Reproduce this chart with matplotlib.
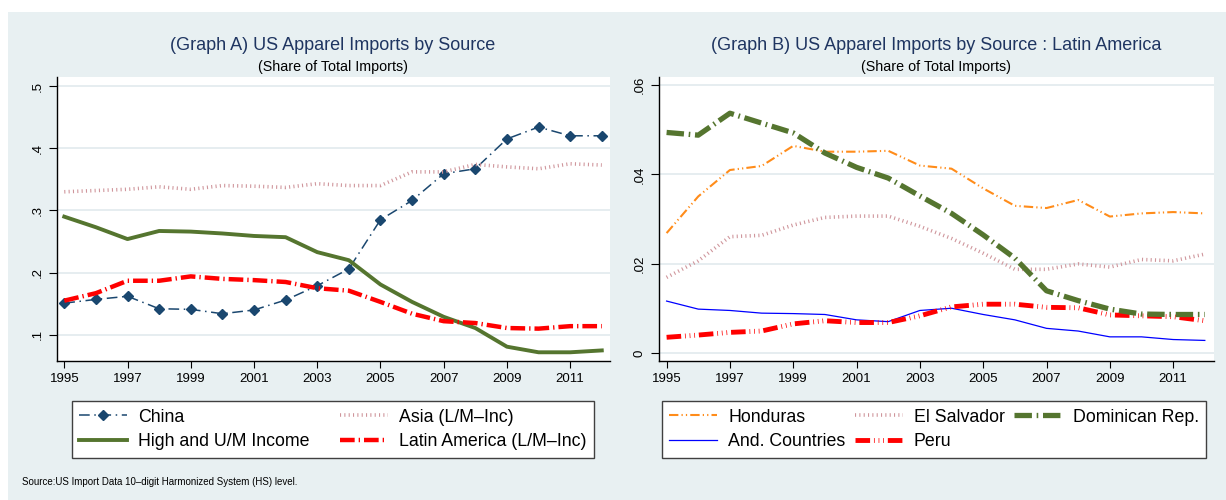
import numpy as np
import matplotlib.pyplot as plt
from matplotlib.patches import Rectangle
from matplotlib.ticker import FuncFormatter

plt.rcParams['font.family'] = ['Liberation Sans', 'DejaVu Sans']

years = list(range(1995, 2013))

# Graph A: share of total US apparel imports
china = [0.151, 0.157, 0.162, 0.142, 0.141, 0.134, 0.140, 0.156, 0.179, 0.206,
         0.285, 0.316, 0.359, 0.367, 0.415, 0.434, 0.420, 0.420]
asia = [0.330, 0.332, 0.334, 0.338, 0.334, 0.340, 0.339, 0.337, 0.343, 0.340,
        0.340, 0.362, 0.362, 0.374, 0.370, 0.367, 0.375, 0.373]
high_income = [0.290, 0.273, 0.254, 0.267, 0.266, 0.263, 0.259, 0.257, 0.233, 0.220,
               0.181, 0.153, 0.129, 0.111, 0.081, 0.072, 0.072, 0.075]
latin = [0.155, 0.167, 0.187, 0.187, 0.194, 0.190, 0.188, 0.185, 0.175, 0.171,
         0.153, 0.134, 0.122, 0.119, 0.111, 0.110, 0.114, 0.114]

# Graph B: Latin America countries
honduras = [0.0269, 0.0351, 0.0410, 0.0419, 0.0464, 0.0451, 0.0451, 0.0453, 0.0420, 0.0413,
            0.0369, 0.0330, 0.0325, 0.0343, 0.0306, 0.0313, 0.0316, 0.0313]
el_salvador = [0.0170, 0.0207, 0.0261, 0.0264, 0.0287, 0.0304, 0.0307, 0.0307, 0.0284, 0.0257,
               0.0224, 0.0188, 0.0188, 0.0200, 0.0193, 0.0210, 0.0207, 0.0222]
dominican = [0.0494, 0.0488, 0.0537, 0.0515, 0.0493, 0.0448, 0.0416, 0.0392, 0.0352, 0.0313,
             0.0265, 0.0213, 0.0140, 0.0118, 0.0099, 0.0088, 0.0087, 0.0087]
andean = [0.0117, 0.0099, 0.0096, 0.0090, 0.0089, 0.0087, 0.0075, 0.0071, 0.0096, 0.0101,
          0.0087, 0.0075, 0.0056, 0.0050, 0.0037, 0.0037, 0.0031, 0.0029]
peru = [0.0036, 0.0041, 0.0047, 0.0050, 0.0066, 0.0073, 0.0069, 0.0069, 0.0084, 0.0104,
        0.0110, 0.0110, 0.0103, 0.0102, 0.0086, 0.0084, 0.0082, 0.0073]

yticks_a = [0.1, 0.2, 0.3, 0.4, 0.5]
yticks_b = [0.0, 0.02, 0.04, 0.06]
xticks = list(range(1995, 2012, 2))

BG = '#e8f0f2'
NAVY = '#1a476f'
MAROON = '#cf959b'
GREEN = '#55752f'
TITLE = '#1f3561'


def strip_zero(v, pos):
    if abs(v) < 1e-12:
        return '0'
    return f"{v:g}".replace('0.', '.')


def style_axes(ax, yticks, ylim, xlim):
    ax.set_xlim(*xlim)
    ax.set_ylim(*ylim)
    ax.set_xticks(xticks)
    ax.set_yticks(yticks)
    ax.yaxis.set_major_formatter(FuncFormatter(strip_zero))
    for lab in ax.get_yticklabels():
        lab.set_rotation(90)
        lab.set_va('center')
    ax.tick_params(axis='both', labelsize=9.5, length=5, width=0.8, color='black')
    ax.tick_params(axis='y', length=6)
    ax.grid(axis='y', color='#e1eaee', linewidth=1.2)
    ax.set_axisbelow(True)
    for s in ['top', 'right']:
        ax.spines[s].set_visible(False)
    ax.spines['left'].set_linewidth(1.0)
    ax.spines['bottom'].set_linewidth(1.0)


fig = plt.figure(figsize=(12.26, 5.0), dpi=100)
fig.patches.append(Rectangle((8 / 1226, 0), 1, 1 - 12 / 500, transform=fig.transFigure,
                             facecolor=BG, edgecolor='none', zorder=-10))

ax1 = fig.add_axes([57 / 1226, 139 / 500, 553 / 1226, 284 / 500])
ax2 = fig.add_axes([659 / 1226, 139 / 500, 555 / 1226, 284 / 500])

# Graph A
ax1.plot(years, china, color=NAVY, lw=1.1, dashes=(7, 3, 1, 3), marker='D', ms=5.5,
         label='China')
ax1.plot(years, high_income, color=GREEN, lw=2.8, label='High and U/M Income')
ax1.plot(years, asia, color=MAROON, lw=2.6, dashes=(0.3, 0.9), label='Asia (L/M\u2013Inc)')
ax1.plot(years, latin, color='#ff0000', lw=3.2, dashes=(3.3, 0.9, 0.3, 0.9),
         label='Latin America (L/M\u2013Inc)')
style_axes(ax1, yticks_a, (0.058, 0.5145), (1994.77, 2012.26))

# Graph B
ax2.plot(years, honduras, color='#ff8c1a', lw=1.5, dashes=(4.5, 1.5, 0.6, 1.5, 0.6, 1.5),
         label='Honduras')
ax2.plot(years, andean, color='#0000ff', lw=0.9, label='And. Countries')
ax2.plot(years, el_salvador, color=MAROON, lw=2.6, dashes=(0.3, 0.9), label='El Salvador')
ax2.plot(years, peru, color='#ff0000', lw=3.5,
         dashes=(3, 0.8, 0.15, 0.8, 0.15, 0.8, 0.15, 0.8), label='Peru')
ax2.plot(years, dominican, color=GREEN, lw=3.8, dashes=(3.3, 0.9, 0.3, 0.9),
         label='Dominican Rep.')
style_axes(ax2, yticks_b, (-0.0017, 0.0618), (1994.76, 2012.29))

# titles
for cx, title in [(333, '(Graph A) US Apparel Imports by Source'),
                  (936, '(Graph B) US Apparel Imports by Source : Latin America')]:
    fig.text(cx / 1226, 1 - 46 / 500, title, ha='center', va='center', fontsize=13, color=TITLE)
    fig.text(cx / 1226, 1 - 67 / 500, '(Share of Total Imports)', ha='center', va='center',
             fontsize=10.3, color='black')

# legends
for ax, x0, x1, ncol in [(ax1, 72, 594, 2), (ax2, 662, 1206, 3)]:
    leg = fig.legend(*ax.get_legend_handles_labels(), ncol=ncol, mode='expand',
                     bbox_to_anchor=(x0 / 1226, 43 / 500, (x1 - x0) / 1226, 55 / 500),
                     loc='center', fontsize=12.8, handlelength=2.7, handletextpad=0.62,
                     borderaxespad=0, labelspacing=0.45, fancybox=False, framealpha=1,
                     edgecolor='#404040', borderpad=0.4, columnspacing=0.8)
    leg.get_frame().set_linewidth(1.0)

fig.text(22 / 1226, 1 - 482 / 500, 'Source:US Import Data 10\u2013digit Harmonized System (HS) level.',
         ha='left', va='center', fontsize=7)

fig.savefig('out.png', dpi=100, facecolor='white')
